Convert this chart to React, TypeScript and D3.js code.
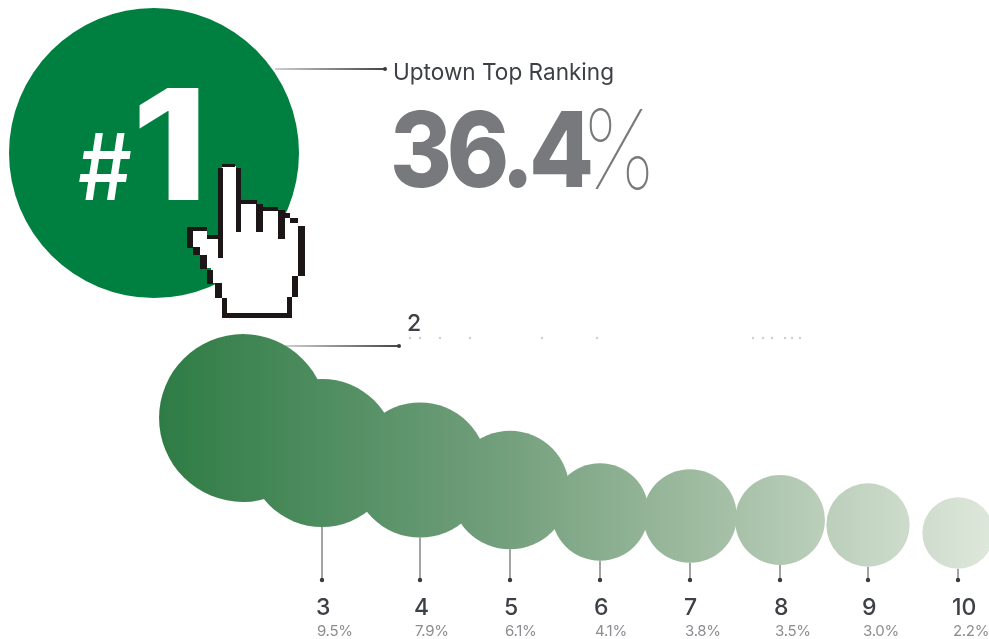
import React from "react";
import * as d3 from "d3";

// ---- data ----
const ranks = [2, 3, 4, 5, 6, 7, 8, 9, 10];
const shares = [12.2, 9.5, 7.9, 6.1, 4.1, 3.8, 3.5, 3.0, 2.2];
const shareLabels = ["", "9.5%", "7.9%", "6.1%", "4.1%", "3.8%", "3.5%", "3.0%", "2.2%"];
const topRank = 1;
const topShare = 36.4;
const topName = "Uptown Top Ranking";

// ---- layout ----
const W = 989, H = 639;
const centreX = [243, 322, 420, 510, 600, 690, 780, 868, 958];
const centreY = [418, 453, 470, 490, 512, 516, 520, 525, 533];
const x = d3.scaleOrdinal<number, number>().domain(ranks).range(centreX);
const y = d3.scaleOrdinal<number, number>().domain(ranks).range(centreY);
const r = d3.scaleSqrt().domain([0, topShare]).range([0, 145]);
const FONT = "Inter, 'Liberation Sans', Arial, sans-serif";
const specks = [410, 420, 440, 470, 542, 597, 753, 763, 772, 785, 792, 800];

const handFill = "222,166 236,166 236,201 257,201 257,209 278,209 278,214 290,214 290,222 300,222 300,276 295,276 295,297 290,297 290,315 225,315 225,297 219,297 219,283 211,283 211,268 203,268 203,255 196,255 196,247 190,247 190,231 207,231 207,238 219,238";
const handInk: number[][] = [
  [222, 164, 13, 3], [218, 168, 5, 90], [236, 168, 5, 64], [241, 200, 16, 4], [256, 204, 7, 28],
  [263, 207, 15, 4], [278, 210, 7, 29], [285, 213, 5, 5], [290, 218, 8, 5], [298, 226, 7, 50],
  [292, 276, 6, 21], [287, 297, 5, 17], [222, 313, 70, 5], [222, 298, 5, 16], [215, 283, 7, 15],
  [207, 270, 6, 14], [200, 255, 7, 14], [193, 247, 7, 8], [187, 228, 6, 20], [187, 227, 20, 4], [207, 235, 11, 4],
];

function Leader({ x1, y1, x2, y2, id }: { x1: number; y1: number; x2: number; y2: number; id: string }) {
  return (
    <g>
      <line x1={x1} y1={y1} x2={x2} y2={y2} stroke={`url(#${id})`} strokeWidth={1.8} />
      <circle cx={x2} cy={y2} r={2} fill="#3a3a3a" />
    </g>
  );
}

export default function App() {
  return (
    <svg width={W} height={H} viewBox={`0 0 ${W} ${H}`} style={{ position: "absolute", left: 0, top: 0, background: "#fff" }}>
      <defs>
        <linearGradient id="bubbles" gradientUnits="userSpaceOnUse" x1={160} y1={0} x2={990} y2={0}>
          <stop offset="0" stopColor="#2e7c45" />
          <stop offset="0.2" stopColor="#4f8d60" />
          <stop offset="0.42" stopColor="#74a07d" />
          <stop offset="0.64" stopColor="#9dba9f" />
          <stop offset="0.85" stopColor="#c4d5c3" />
          <stop offset="1" stopColor="#dde7da" />
        </linearGradient>
        <linearGradient id="leadHu" gradientUnits="userSpaceOnUse" x1={275} x2={385} y1={0} y2={0}>
          <stop offset="0" stopColor="#cfcfcf" />
          <stop offset="1" stopColor="#444" />
        </linearGradient>
        <linearGradient id="leadHu2" gradientUnits="userSpaceOnUse" x1={285} x2={400} y1={0} y2={0}>
          <stop offset="0" stopColor="#cfcfcf" />
          <stop offset="1" stopColor="#444" />
        </linearGradient>
        <filter id="soft" x="-5%" y="-5%" width="110%" height="110%">
          <feGaussianBlur stdDeviation="0.7" />
        </filter>
      </defs>
      <g filter="url(#soft)">
        <circle cx={154} cy={153} r={r(topShare)} fill="#06803f" />
        <text x={78} y={200} fontFamily={FONT} fontWeight={500} fontSize={92} textLength={54} lengthAdjust="spacingAndGlyphs" fill="#fff">#</text>
        <text x={132} y={200} fontFamily={FONT} fontWeight={800} fontSize={154} textLength={76} lengthAdjust="spacingAndGlyphs" fill="#fff">{topRank}</text>

        <Leader x1={275} y1={69} x2={385} y2={69} id="leadHu" />
        <text x={393} y={80} fontFamily={FONT} fontSize={23} textLength={221} lengthAdjust="spacingAndGlyphs" fill="#3c3f45">{topName}</text>
        <text transform="translate(390,187) scale(0.9,1)" fontFamily={FONT} fontWeight={800} fontSize={105} letterSpacing={-6} fill="#77797c">{topShare}</text>
        <text x={581} y={189} fontFamily={FONT} fontWeight={100} fontSize={110} textLength={76} lengthAdjust="spacingAndGlyphs" fill="#77797c">%</text>

        <Leader x1={285} y1={346} x2={399} y2={346} id="leadHu2" />
        <text x={407} y={331} fontFamily={FONT} fontWeight={500} fontSize={23} fill="#3c3f45">{ranks[0]}</text>
        {specks.map((s) => (
          <circle key={s} cx={s} cy={338} r={1.2} fill="#cfcfcf" />
        ))}

        {ranks.slice(1).map((k) => (
          <line key={k} x1={x(k)} x2={x(k)} y1={y(k) + r(shares[ranks.indexOf(k)])} y2={580} stroke="#999" strokeWidth={1.8} />
        ))}
        {ranks.slice(1).map((k) => (
          <circle key={k} cx={x(k)} cy={580} r={2.2} fill="#3a3a3a" />
        ))}
        {ranks.map((k, i) => (
          <circle key={k} cx={x(k)} cy={y(k)} r={r(shares[i])} fill="url(#bubbles)" />
        ))}
        {ranks.slice(1).map((k, i) => (
          <g key={k}>
            <text x={x(k) - 6} y={615} fontFamily={FONT} fontWeight={500} fontSize={23} fill="#3c3f45">{k}</text>
            <text x={x(k) - 5} y={636} fontFamily={FONT} fontSize={15} letterSpacing={-0.3} fill="#8b8d90">{shareLabels[i + 1]}</text>
          </g>
        ))}

        <polygon points={handFill} fill="#fff" />
        {handInk.map((d, i) => (
          <rect key={i} x={d[0]} y={d[1]} width={d[2]} height={d[3]} fill="#1a1416" />
        ))}
      </g>
    </svg>
  );
}
